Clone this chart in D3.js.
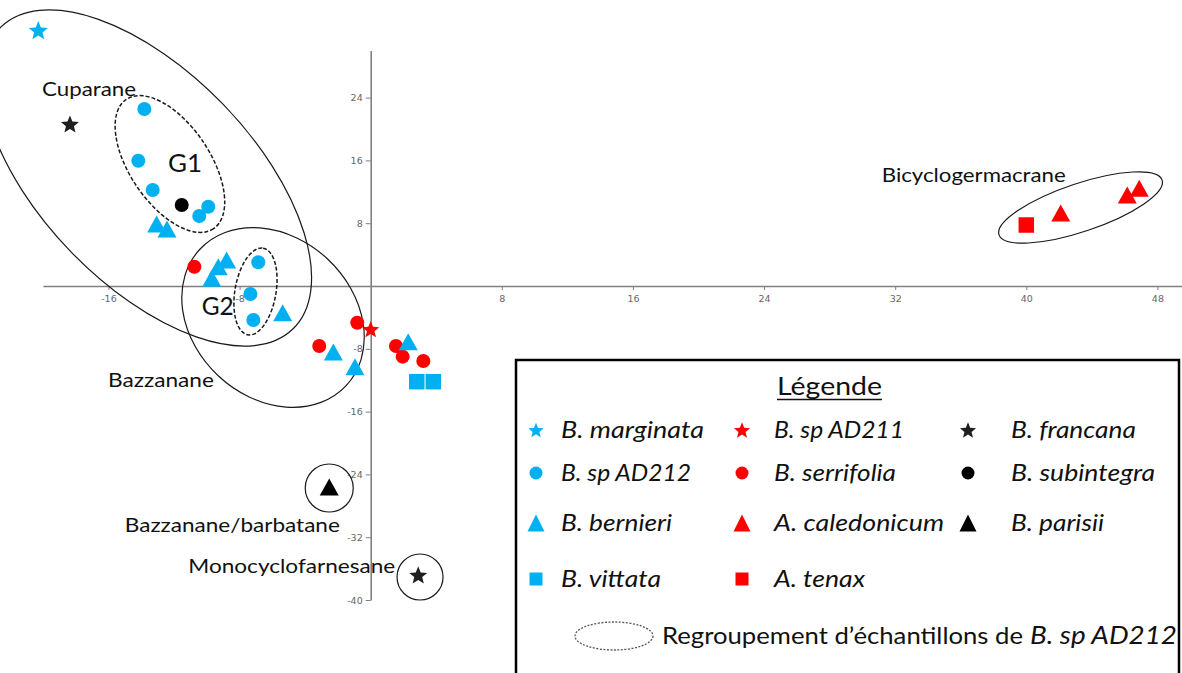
<!DOCTYPE html>
<html>
<head>
<meta charset="utf-8">
<script src="https://cdn.jsdelivr.net/npm/d3@7"></script>
<style>
  html, body { margin: 0; padding: 0; background: #fff; }
  svg { display: block; }
</style>
</head>
<body>
<svg id="chart" width="1182" height="673"></svg>
<script>
// ---- sample scores (axis 1, axis 2) per species ----
const marginata   = [[-20.28, 32.6]];
const spAD211     = [[0.0, -5.5]];
const francana    = [[-18.35, 20.64], [2.9, -36.8]];
const spAD212     = [[-13.81, 22.55], [-14.18, 15.96], [-13.3, 12.23], [-10.46, 8.92], [-9.91, 10.1],
                     [-6.86, 3.02], [-7.34, -1.02], [-7.16, -4.33]];
const serrifolia  = [[-10.76, 2.46], [-0.82, -4.68], [-3.14, -7.64], [1.54, -7.64], [1.95, -9.0], [3.21, -9.55]];
const subintegra  = [[-11.53, 10.32]];
const bernieri    = [[-13.06, 7.9], [-12.43, 7.26], [-8.79, 3.31], [-9.3, 2.46], [-9.7, 0.98],
                     [-5.37, -3.4], [-2.28, -8.4], [-0.96, -10.28], [2.29, -7.1]];
const caledonicum = [[42.1, 9.3], [46.16, 11.59], [46.89, 12.45]];
const parisii     = [[-2.53, -25.6]];
const vittata     = [[2.81, -12.19], [3.82, -12.19]];
const tenax       = [[40.0, 7.77]];

const xTicks = [-16, -8, 8, 16, 24, 32, 40, 48];
const yTicks = [24, 16, 8, -8, -16, -24, -32, -40];

// ---- series definitions ----
const BLUE = "#00b0f0", RED = "#ff0000", DARK = "#1f1f1f";
const series = [
  { name: "B. sp AD212",    pts: spAD212,     shape: "circle",   color: BLUE },
  { name: "B. serrifolia",  pts: serrifolia,  shape: "circle",   color: RED },
  { name: "B. subintegra",  pts: subintegra,  shape: "circle",   color: "#000" },
  { name: "B. bernieri",    pts: bernieri,    shape: "triangle", color: BLUE },
  { name: "A. caledonicum", pts: caledonicum, shape: "triangle", color: RED },
  { name: "B. parisii",     pts: parisii,     shape: "triangle", color: "#000" },
  { name: "B. vittata",     pts: vittata,     shape: "square",   color: BLUE },
  { name: "A. tenax",       pts: tenax,       shape: "square",   color: RED },
  { name: "B. marginata",   pts: marginata,   shape: "star",     color: BLUE, r: 10, lr: 8 },
  { name: "B. sp AD211",    pts: spAD211,     shape: "star",     color: RED,  r: 9,  lr: 8.5 },
  { name: "B. francana",    pts: francana,    shape: "star",     color: DARK, r: 9.5, lr: 8.5 }
];

// ---- scales ----
const x = d3.scaleLinear().domain([-20, 50]).range([42.9, 1190.2]);
const y = d3.scaleLinear().domain([-40, 30]).range([600, 50.5]);

const svg = d3.select("#chart");
const FONT = "Lato, 'Open Sans', sans-serif";

// ---- marker shapes ----
function starPath(R, k = 0.44) {
  const p = d3.path();
  for (let i = 0; i < 10; i++) {
    const a = -Math.PI / 2 + i * Math.PI / 5, r = i % 2 ? R * k : R;
    const px = r * Math.cos(a), py = r * Math.sin(a) + R * 0.1;
    i ? p.lineTo(px, py) : p.moveTo(px, py);
  }
  p.closePath();
  return p.toString();
}
function triPath(w, h) { return `M0,${-h / 2}L${w / 2},${h / 2}L${-w / 2},${h / 2}Z`; }
function sqPath(s) { return `M${-s / 2},${-s / 2}h${s}v${s}h${-s}Z`; }
function circPath(r) { return `M${-r},0a${r},${r} 0 1,0 ${2 * r},0a${r},${r} 0 1,0 ${-2 * r},0Z`; }

function shapePath(s, big) {
  if (s.shape === "circle") return circPath(big ? 7 : 6.5);
  if (s.shape === "triangle") return big ? triPath(19, 17) : triPath(17, 17);
  if (s.shape === "square") return sqPath(big ? 15.5 : 13);
  return starPath(big ? s.r : s.lr);
}

// ---- group outlines (centre in data units, radii in px, rotation in degrees) ----
const outlines = [
  { cx: -13.65, cy: 13.76, rx: 210, ry: 106, rot: 46,    dash: null },
  { cx: -5.96,  cy: -4.01, rx: 100, ry: 80,  rot: 43,    dash: null },
  { cx: 43.31,  cy: 10.0,  rx: 86,  ry: 24,  rot: -18.6, dash: null },
  { cx: -2.53,  cy: -25.73, rx: 24, ry: 24,  rot: 0,     dash: null },
  { cx: 3.01,   cy: -37.07, rx: 23, ry: 23,  rot: 0,     dash: null },
  { cx: -12.25, cy: 15.54, rx: 78,  ry: 40,  rot: 56,    dash: "4,2" },
  { cx: -7.03,  cy: -0.70, rx: 44,  ry: 20.5, rot: -80,  dash: "4,2" }
];

// ---- axes ----
const fmt = d => String(d);
const gx = svg.append("g").attr("transform", `translate(0,${y(0)})`)
  .call(d3.axisBottom(x).tickValues(xTicks).tickSize(4).tickSizeOuter(0).tickPadding(5).tickFormat(fmt));
const gy = svg.append("g").attr("transform", `translate(${x(0)},0)`)
  .call(d3.axisLeft(y).tickValues(yTicks).tickSize(5).tickSizeOuter(0).tickPadding(3).tickFormat(fmt));
[gx, gy].forEach(g => {
  g.select(".domain").attr("stroke", "#808080").attr("stroke-width", 1.6);
  g.selectAll(".tick line").attr("stroke", "#808080").attr("stroke-width", 1);
  g.selectAll(".tick text").attr("fill", "#666").attr("font-size", 9.5)
    .attr("font-family", "'DejaVu Sans', sans-serif");
});

// ---- outlines ----
svg.append("g").selectAll("ellipse").data(outlines).join("ellipse")
  .attr("transform", d => `translate(${x(d.cx)},${y(d.cy)}) rotate(${d.rot})`)
  .attr("rx", d => d.rx).attr("ry", d => d.ry)
  .attr("fill", "none").attr("stroke", "#1a1a1a")
  .attr("stroke-width", d => d.dash ? 1.5 : 1.2)
  .attr("stroke-dasharray", d => d.dash);

// ---- points ----
const gp = svg.append("g");
series.forEach(s => {
  gp.selectAll(null).data(s.pts).join("path")
    .attr("transform", d => `translate(${x(d[0])},${y(d[1])})`)
    .attr("d", shapePath(s, true))
    .attr("fill", s.color);
});

// ---- zone labels (anchored in data units) ----
const zoneLabels = [
  { text: "Cuparane",            x: -20.05, y: 24.2,  size: 20, w: 94 },
  { text: "G1",                  x: -12.37, y: 14.52, size: 25, w: 34 },
  { text: "G2",                  x: -10.31, y: -3.69, size: 25, w: 32 },
  { text: "Bicyclogermacrane",   x: 31.18,  y: 13.29, size: 20, w: 184 },
  { text: "Bazzanane",           x: -16.03, y: -12.9, size: 20, w: 106 },
  { text: "Bazzanane/barbatane", x: -15.0,  y: -31.3, size: 20, w: 215 },
  { text: "Monocyclofarnesane",  x: -11.13, y: -36.6, size: 20, w: 207 }
];
svg.append("g").selectAll("text").data(zoneLabels).join("text")
  .attr("x", d => x(d.x)).attr("y", d => y(d.y))
  .attr("font-family", FONT).attr("font-size", d => d.size).attr("fill", "#111")
  .attr("textLength", d => d.w).attr("lengthAdjust", "spacingAndGlyphs")
  .text(d => d.text);

// ---- legend ----
const lg = svg.append("g");
lg.append("rect").attr("x", 516).attr("y", 360).attr("width", 663).attr("height", 340)
  .attr("fill", "#fff").attr("stroke", "#000").attr("stroke-width", 2.5);
lg.append("text").attr("x", 777).attr("y", 394.5).attr("font-family", FONT).attr("font-size", 24.5)
  .attr("fill", "#111").attr("textLength", 105).attr("lengthAdjust", "spacingAndGlyphs").text("Légende");
lg.append("line").attr("x1", 777).attr("x2", 882).attr("y1", 399.5).attr("y2", 399.5)
  .attr("stroke", "#111").attr("stroke-width", 1.6);

const legendOrder = [
  ["B. marginata", 0, 0, 143], ["B. sp AD211", 1, 0, 130], ["B. francana", 2, 0, 125],
  ["B. sp AD212", 0, 1, 130], ["B. serrifolia", 1, 1, 122], ["B. subintegra", 2, 1, 144],
  ["B. bernieri", 0, 2, 111], ["A. caledonicum", 1, 2, 170], ["B. parisii", 2, 2, 93],
  ["B. vittata", 0, 3, 100], ["A. tenax", 1, 3, 91]
];
const colMarker = [536, 742, 968], colText = [561, 774, 1011];
const rowY = [430, 473, 523, 579];
legendOrder.forEach(([name, c, r, w]) => {
  const s = series.find(d => d.name === name);
  lg.append("path").attr("transform", `translate(${colMarker[c]},${rowY[r]})`)
    .attr("d", shapePath(s, false)).attr("fill", s.color);
  lg.append("text").attr("x", colText[c]).attr("y", rowY[r] + 8)
    .attr("font-family", FONT).attr("font-style", "italic").attr("font-size", 23).attr("fill", "#111")
    .attr("textLength", w).attr("lengthAdjust", "spacingAndGlyphs").text(name);
});
lg.append("ellipse").attr("cx", 614).attr("cy", 636).attr("rx", 39).attr("ry", 14)
  .attr("fill", "none").attr("stroke", "#555").attr("stroke-width", 1.3).attr("stroke-dasharray", "2,1.5");
lg.append("text").attr("x", 662).attr("y", 644).attr("font-family", FONT).attr("font-size", 23)
  .attr("fill", "#111").attr("textLength", 361).attr("lengthAdjust", "spacingAndGlyphs")
  .text("Regroupement d’échantillons de");
lg.append("text").attr("x", 1030).attr("y", 644).attr("font-family", FONT).attr("font-style", "italic")
  .attr("font-size", 26).attr("fill", "#111").attr("textLength", 147).attr("lengthAdjust", "spacingAndGlyphs")
  .text("B. sp AD212");
</script>
</body>
</html>
